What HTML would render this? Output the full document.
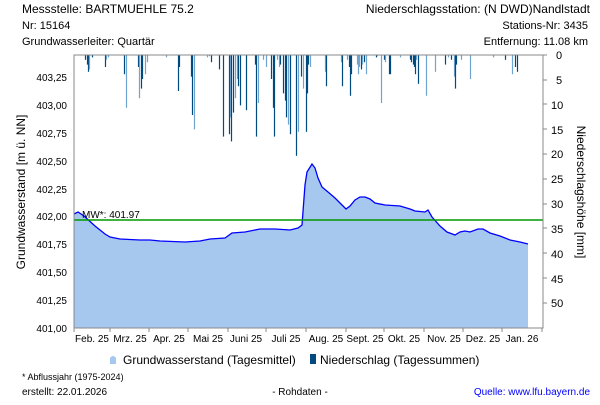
<!DOCTYPE html>
<html><head><meta charset="utf-8"><style>
body{margin:0;background:#fff;width:600px;height:400px;overflow:hidden;font-family:"Liberation Sans",sans-serif}
</style></head><body>
<svg width="600" height="400" xmlns="http://www.w3.org/2000/svg" font-family="Liberation Sans, sans-serif" font-size="11">
<text x="22" y="13" font-size="12">Messstelle: BARTMUEHLE 75.2</text>
<text x="22" y="29">Nr: 15164</text>
<text x="22" y="45">Grundwasserleiter: Quartär</text>
<text x="590" y="13" font-size="12" text-anchor="end">Niederschlagsstation: (N DWD)Nandlstadt</text>
<text x="588" y="29" text-anchor="end">Stations-Nr: 3435</text>
<text x="588" y="45" text-anchor="end">Entfernung: 11.08 km</text>
<polygon fill="#a6c8ef" points="74,328 74,214 78,212 84,216 95,226 105,234 110,237 120,239 140,240 150,240 160,241 185,242 200,241 210,239 225,238 232,233 245,232 260,229 275,229 290,230 298,228 302,225 305,185 307,172 312,164 315,168 318,178 322,187 328,192 335,198 342,205 346,209 350,206 355,200 360,197 365,197 370,199 375,203 385,205 400,206 410,209 415,211 425,212 428,210 432,217 440,226 447,232 455,235 460,232 465,231 470,232 478,229 483,229 490,233 500,236 510,240 520,242 528,244 528,328"/>
<polyline fill="none" stroke="#0000ff" stroke-width="1.3" points="74,214 78,212 84,216 95,226 105,234 110,237 120,239 140,240 150,240 160,241 185,242 200,241 210,239 225,238 232,233 245,232 260,229 275,229 290,230 298,228 302,225 305,185 307,172 312,164 315,168 318,178 322,187 328,192 335,198 342,205 346,209 350,206 355,200 360,197 365,197 370,199 375,203 385,205 400,206 410,209 415,211 425,212 428,210 432,217 440,226 447,232 455,235 460,232 465,231 470,232 478,229 483,229 490,233 500,236 510,240 520,242 528,244"/>
<line x1="74" y1="220" x2="543" y2="220" stroke="#009900" stroke-width="1.5"/>
<text x="82" y="218" font-size="10">MW*: 401.97</text>
<g id="bars" stroke-width="1.2"></g>
<rect x="74" y="55" width="469" height="273" fill="none" stroke="#888"/>
<g font-size="10" text-anchor="end">
<text x="67" y="332">401,00</text><text x="67" y="304">401,25</text><text x="67" y="276">401,50</text><text x="67" y="248">401,75</text><text x="67" y="220">402,00</text><text x="67" y="193">402,25</text><text x="67" y="165">402,50</text><text x="67" y="137">402,75</text><text x="67" y="109">403,00</text><text x="67" y="81">403,25</text>
</g>
<g font-size="11" text-anchor="start">
<text x="556" y="59">0</text><text x="556" y="84">5</text><text x="551" y="109">10</text><text x="551" y="134">15</text><text x="551" y="158">20</text><text x="551" y="183">25</text><text x="551" y="208">30</text><text x="551" y="233">35</text><text x="551" y="258">40</text><text x="551" y="283">45</text><text x="551" y="307">50</text>
</g>
<g stroke="#888" id="ticks"></g>
<g font-size="10" text-anchor="middle">
<text x="92" y="342">Feb. 25</text><text x="130" y="342">Mrz. 25</text><text x="169" y="342">Apr. 25</text><text x="208" y="342">Mai 25</text><text x="246" y="342">Juni 25</text><text x="286" y="342">Juli 25</text><text x="326" y="342">Aug. 25</text><text x="365" y="342">Sept. 25</text><text x="404" y="342">Okt. 25</text><text x="444" y="342">Nov. 25</text><text x="483" y="342">Dez. 25</text><text x="522" y="342">Jan. 26</text>
</g>
<text transform="translate(25,192) rotate(-90)" text-anchor="middle" font-size="12">Grundwasserstand [m ü. NN]</text>
<text transform="translate(577,192) rotate(90)" text-anchor="middle" font-size="12">Niederschlagshöhe [mm]</text>
<path d="M110,364 L110,358 Q113,354 116,358 L116,364 z" fill="#a6c8ef"/>
<text x="123" y="364" font-size="12">Grundwasserstand (Tagesmittel)</text>
<rect x="310" y="354" width="6" height="10" fill="#004a80"/>
<text x="320" y="364" font-size="12">Niederschlag (Tagessummen)</text>
<text x="22" y="380" font-size="9">* Abflussjahr (1975-2024)</text>
<text x="22" y="395" font-size="10">erstellt:  22.01.2026</text>
<text x="300" y="395" font-size="10" text-anchor="middle">- Rohdaten -</text>
<text x="590" y="395" font-size="10" text-anchor="end" fill="#0000ff">Quelle: www.lfu.bayern.de</text>
</svg>
<script>
var t=document.getElementById('ticks');
[74,110,149,188,228,266,306,346,384,424,463,502,542].forEach(function(x){var l=document.createElementNS('http://www.w3.org/2000/svg','line');l.setAttribute('x1',x);l.setAttribute('x2',x);l.setAttribute('y1',328);l.setAttribute('y2',332);t.appendChild(l);});
[55,80,104,129,154,179,204,228,253,278,303].forEach(function(y){var l=document.createElementNS('http://www.w3.org/2000/svg','line');l.setAttribute('x1',543);l.setAttribute('x2',547);l.setAttribute('y1',y);l.setAttribute('y2',y);t.appendChild(l);});
var b=[[85,2,0],[87,4,0],[88,7,0],[89,6,1],[92,1,0],[105,5,0],[106,2,1],[108,1,1],[124,8,0],[126,22,1],[138,5,0],[139,18,1],[141,14,0],[142,10,0],[145,8,1],[147,3,1],[166,1,1],[178,15,0],[179,5,0],[191,9,0],[192,25,0],[194,31,1],[207,1,1],[209,0.5,1],[211,3,0],[219,6,0],[223,34,0],[229,33,0],[230,26,1],[231,36,0],[233,24,0],[235,18,1],[237,10,1],[238,13,0],[240,21,0],[246,23,0],[255,4,0],[256,34,0],[258,20,1],[263,2,1],[266,5,1],[271,10,0],[273,22,0],[274,34,0],[277,2,1],[279,5,1],[280,4,0],[283,16,0],[285,19,0],[286,26,0],[288,29,1],[290,33,0],[296,42,0],[298,32,1],[301,9,0],[303,14,1],[306,32,0],[307,16,0],[308,4,0],[310,5,1],[325,7,1],[326,13,0],[341,3,1],[342,13,0],[347,2,1],[349,5,0],[350,17,0],[351,8,0],[357,4,1],[358,8,1],[359,5,1],[361,6,0],[362,4,1],[364,3,0],[366,8,1],[376,1,0],[377,0.5,1],[381,20,1],[384,2,0],[385,3,1],[389,8,0],[390,8,0],[400,1,1],[410,2,0],[411,3,0],[413,4,0],[414,5,0],[415,8,0],[416,2,1],[418,12,0],[426,17,1],[435,7,1],[445,4,0],[448,1,1],[451,2,0],[454,9,1],[455,14,0],[456,4,0],[461,2,1],[470,10,1],[493,1,1],[505,2,0],[512,8,1],[515,5,0],[517,7,0]];
var g=document.getElementById('bars');
b.forEach(function(d){var l=document.createElementNS('http://www.w3.org/2000/svg','line');l.setAttribute('x1',d[0]+.5);l.setAttribute('x2',d[0]+.5);l.setAttribute('y1',55);l.setAttribute('y2',55+d[1]*2.4);l.setAttribute('stroke',d[2]?'#6fa3d0':'#004a80');g.appendChild(l);});
</script>
</body></html>
